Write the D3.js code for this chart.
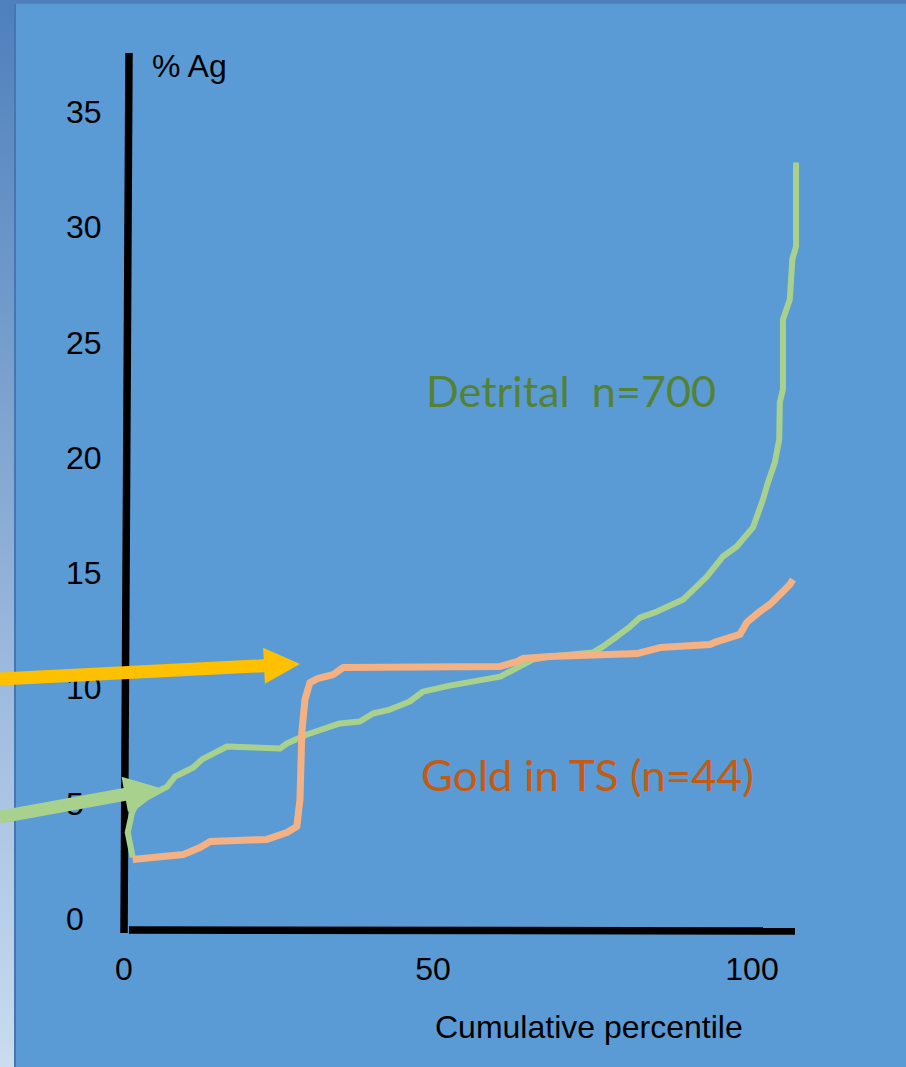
<!DOCTYPE html>
<html>
<head>
<meta charset="utf-8">
<script src="https://cdn.jsdelivr.net/npm/d3@7"></script>
<style>
  html, body { margin: 0; padding: 0; background: #5b9bd5; }
  svg { display: block; }
  text.pre { white-space: pre; }
</style>
</head>
<body>
<svg id="chart" width="906" height="1067"></svg>
<script>
// ---------- data ----------
const detritalPct = [1.4, 0.6, 1.3, 1.8, 3.7, 6.9, 8.2, 11.1, 12.5, 16.5, 20.7, 25.0, 26.1, 29.3, 34.6, 37.8, 39.9, 42.6, 45.8, 47.9, 52.2, 60.3, 65.5, 68.3, 75.2, 76.8, 79.0, 81.1, 82.7, 85.4, 89.6, 91.8, 93.4, 96.0, 98.2, 100.8, 102.4, 103.2, 104.3, 105.0, 105.1, 105.6, 105.6, 106.7, 107.1, 107.7, 107.7];
const detritalAg  = [2.65, 3.73, 4.60, 4.86, 5.25, 5.72, 6.16, 6.55, 6.90, 7.46, 7.42, 7.37, 7.59, 7.98, 8.46, 8.54, 8.89, 9.06, 9.41, 9.84, 10.10, 10.49, 11.23, 11.36, 11.54, 11.80, 12.23, 12.66, 13.05, 13.31, 13.83, 14.40, 14.83, 15.70, 16.13, 16.96, 18.17, 18.91, 19.77, 20.77, 22.38, 22.94, 25.98, 26.84, 28.58, 29.14, 32.78];

const goldPct = [1.4, 9.5, 12.2, 13.8, 22.9, 26.1, 27.7, 28.2, 28.5, 29.0, 29.8, 31.0, 33.5, 35.1, 60.3, 63.0, 63.9, 68.3, 82.2, 85.9, 93.9, 95.0, 98.7, 99.8, 101.9, 103.5, 105.6, 106.7, 107.2];
const goldAg  = [2.56, 2.78, 3.08, 3.34, 3.43, 3.73, 3.99, 5.16, 8.07, 9.50, 10.23, 10.40, 10.58, 10.88, 10.93, 11.14, 11.27, 11.36, 11.49, 11.75, 11.88, 12.01, 12.32, 12.84, 13.31, 13.62, 14.18, 14.48, 14.70];

const yTicks = [0, 5, 10, 15, 20, 25, 30, 35];
const xTicks = [0, 50, 100];

// annotation arrows in data units: [fromPct, fromAg, toPct, toAg]
const yellowArrow = [-19.9, 10.39, 28.2, 11.04];
const greenArrow  = [-19.9, 4.40, 5.8, 5.66];

const labels = {
  yTitle: "% Ag",
  xTitle: "Cumulative percentile",
  detrital: "Detrital  n=700",
  gold: "Gold in TS (n=44)"
};

// ---------- drawing ----------
const W = 906, H = 1067;
const svg = d3.select("#chart");

const x = d3.scaleLinear().domain([0, 100]).range([124, 748]);
const y = d3.scaleLinear().domain([0, 35]).range([918.5, 111.4]);

// background & frame
const defs = svg.append("defs");
const grad = defs.append("linearGradient").attr("id", "strip").attr("x1", 0).attr("y1", 0).attr("x2", 0).attr("y2", 1);
grad.append("stop").attr("offset", "0%").attr("stop-color", "#4e80bc");
grad.append("stop").attr("offset", "100%").attr("stop-color", "#c9dcf0");

svg.append("rect").attr("width", W).attr("height", H).attr("fill", "#5b9bd5");
svg.append("rect").attr("x", 0).attr("y", 0).attr("width", W).attr("height", 3).attr("fill", "#4e80bc");
svg.append("rect").attr("x", 0).attr("y", 0).attr("width", 14).attr("height", H).attr("fill", "url(#strip)");
svg.append("rect").attr("x", 14).attr("y", 3).attr("width", 2).attr("height", H - 3).attr("fill", "#4875ad");
svg.append("rect").attr("x", 14).attr("y", 3).attr("width", W - 14).attr("height", 1).attr("fill", "#4f84bf");

// axes (thick black lines)
svg.append("line").attr("x1", 129).attr("y1", 53).attr("x2", 124).attr("y2", 933)
  .attr("stroke", "#000").attr("stroke-width", 7.5);
svg.append("line").attr("x1", 129).attr("y1", 930).attr("x2", 795).attr("y2", 931)
  .attr("stroke", "#000").attr("stroke-width", 7.5);

// tick labels
const tickFont = "'Liberation Sans', Arial, sans-serif";
svg.append("g").selectAll("text").data(yTicks).join("text")
  .attr("x", 66).attr("y", d => y(d) + 11.5)
  .attr("font-family", tickFont).attr("font-size", 32).attr("fill", "#000")
  .text(d => d);
svg.append("g").selectAll("text").data(xTicks).join("text")
  .attr("x", d => x(d) + (d === 100 ? 4 : (d === 50 ? -3 : 0))).attr("y", 980)
  .attr("text-anchor", "middle")
  .attr("font-family", tickFont).attr("font-size", 32).attr("fill", "#000")
  .text(d => d);

svg.append("text").attr("x", 152).attr("y", 77)
  .attr("font-family", tickFont).attr("font-size", 32).attr("fill", "#000")
  .text(labels.yTitle);
svg.append("text").attr("x", 435).attr("y", 1038)
  .attr("font-family", tickFont).attr("font-size", 32).attr("fill", "#000")
  .text(labels.xTitle);

// data lines
const line = d3.line().x(d => x(d[0])).y(d => y(d[1])).curve(d3.curveLinear);
const detrital = detritalPct.map((p, i) => [p, detritalAg[i]]);
const gold = goldPct.map((p, i) => [p, goldAg[i]]);

svg.append("path").datum(detrital).attr("d", line)
  .attr("fill", "none").attr("stroke", "#a9d18e").attr("stroke-width", 6)
  .attr("stroke-linejoin", "round");
svg.append("path").datum(gold).attr("d", line)
  .attr("fill", "none").attr("stroke", "#f4b183").attr("stroke-width", 7)
  .attr("stroke-linejoin", "round");

// arrows
function arrow(a, color) {
  const x0 = x(a[0]), y0 = y(a[1]), x1 = x(a[2]), y1 = y(a[3]);
  const dx = x1 - x0, dy = y1 - y0, L = Math.hypot(dx, dy);
  const ux = dx / L, uy = dy / L, nx = -uy, ny = ux;
  const sw = 6.5, hl = 36, hw = 18;
  const bx = x1 - ux * hl, by = y1 - uy * hl;
  const pts = [
    [x0 + nx * sw, y0 + ny * sw],
    [bx + nx * sw, by + ny * sw],
    [bx + nx * hw, by + ny * hw],
    [x1, y1],
    [bx - nx * hw, by - ny * hw],
    [bx - nx * sw, by - ny * sw],
    [x0 - nx * sw, y0 - ny * sw]
  ];
  svg.append("path").attr("d", "M" + pts.map(p => p.join(",")).join("L") + "Z").attr("fill", color);
}
arrow(yellowArrow, "#ffc000");
arrow(greenArrow, "#a9d18e");

// annotations
const annFont = "Lato, 'Open Sans', sans-serif";
svg.append("text").attr("class", "pre").attr("xml:space", "preserve")
  .attr("x", 426).attr("y", 407)
  .attr("font-family", annFont).attr("font-size", 42).attr("fill", "#548235")
  .attr("textLength", 290).attr("lengthAdjust", "spacingAndGlyphs")
  .text(labels.detrital);
svg.append("text").attr("x", 421).attr("y", 791)
  .attr("font-family", annFont).attr("font-size", 42).attr("fill", "#c55a11")
  .attr("textLength", 333).attr("lengthAdjust", "spacingAndGlyphs")
  .text(labels.gold);
</script>
</body>
</html>
